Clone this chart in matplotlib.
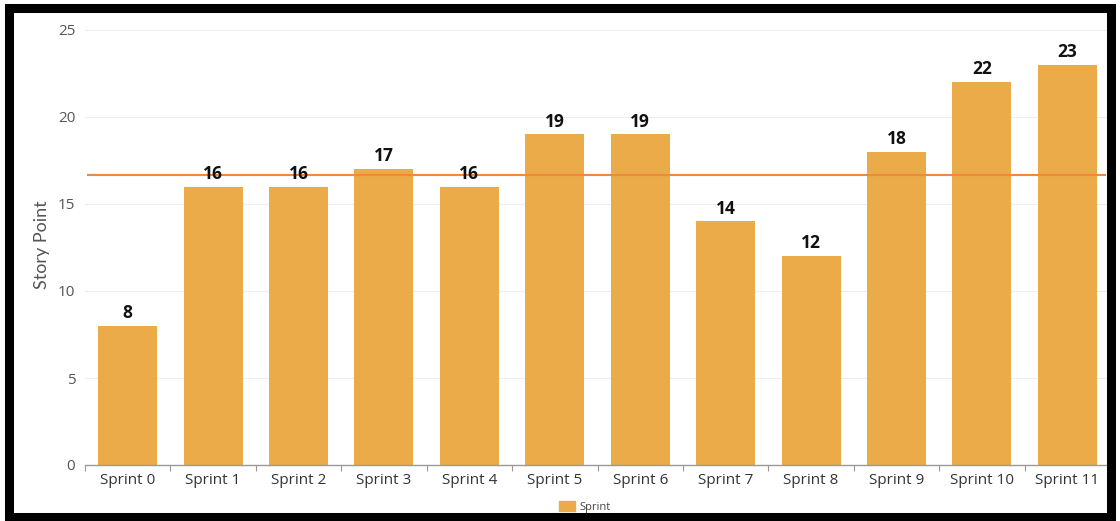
import matplotlib
matplotlib.use("Agg")
import matplotlib.pyplot as plt
from matplotlib.patches import Rectangle
import numpy as np

categories = ["Sprint 0", "Sprint 1", "Sprint 2", "Sprint 3", "Sprint 4", "Sprint 5",
              "Sprint 6", "Sprint 7", "Sprint 8", "Sprint 9", "Sprint 10", "Sprint 11"]
story_points = [8, 16, 16, 17, 16, 19, 19, 14, 12, 18, 22, 23]
y_ticks = [0, 5, 10, 15, 20, 25]
series_name = "Sprint"
y_label = "Story Point"

BAR = "#EAAB48"
AVG = "#EF8A3C"

W, H = 1120, 521
fig = plt.figure(figsize=(W / 100, H / 100), dpi=100)
fig.patch.set_facecolor("white")

ax = fig.add_axes([85 / W, 1 - 465 / H, (1110 - 85) / W, (465 - 30) / H])
x = np.arange(len(categories))
ax.bar(x, story_points, width=0.69, color=BAR, zorder=2, label=series_name)
mean_val = float(np.mean(story_points))
ax.axhline(mean_val, color=AVG, lw=1.5, zorder=3, xmin=0.003, xmax=0.995)

for xi, v in zip(x, story_points):
    ax.text(xi, v + 0.22, str(v), ha="center", va="bottom", fontsize=12.5,
            fontweight="bold", family="Open Sans", color="#111111", zorder=4)

ax.set_xlim(-0.5, len(categories) - 0.5)
ax.set_ylim(0, 25)
ax.set_yticks(y_ticks)
ax.set_yticklabels([str(t) for t in y_ticks], family="Open Sans", fontsize=11, color="#555555")
ax.yaxis.grid(True, color="#eeeeee", lw=0.8, zorder=0)
ax.set_axisbelow(True)
ax.tick_params(axis="y", length=0, pad=7)

ax.set_xticks(x)
ax.set_xticklabels(categories, family="Open Sans", fontsize=11, color="#333333")
ax.tick_params(axis="x", length=0, pad=6)
ax.set_xticks(np.arange(-0.5, len(categories), 1), minor=True)
ax.tick_params(axis="x", which="minor", length=4, color="#999999", width=0.8)

for s in ["top", "right", "left"]:
    ax.spines[s].set_visible(False)
ax.spines["bottom"].set_color("#999999")
ax.spines["bottom"].set_linewidth(1.0)

fig.text(42 / W, 1 - 245 / H, y_label, rotation=90, ha="center", va="center",
         family="Lato", fontsize=13, color="#555555")

leg = fig.legend(handles=[Rectangle((0, 0), 1, 1, color=BAR)], labels=[series_name],
                 loc="center", bbox_to_anchor=(585 / W, 1 - 507 / H), frameon=False,
                 prop={"family": "Open Sans", "size": 8}, handlelength=1.4, handleheight=0.9,
                 handletextpad=0.4)
for t in leg.get_texts():
    t.set_color("#444444")

fig.patches.append(Rectangle((9 / W, 4 / H), (1111 - 9) / W, (513 - 4) / H, transform=fig.transFigure,
                             fill=False, ec="black", lw=6.5, zorder=10))

fig.savefig("out.png", dpi=100)
